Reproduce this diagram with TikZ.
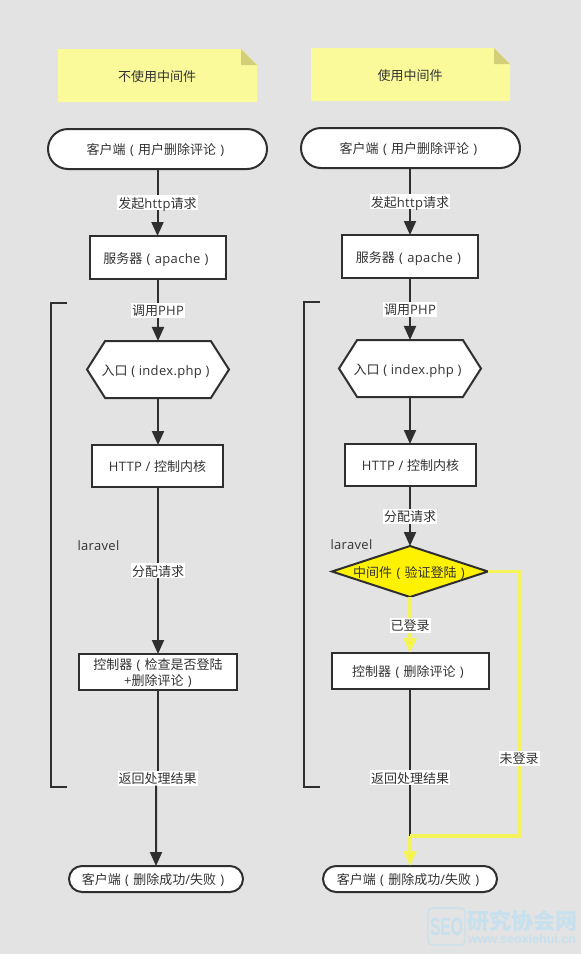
\documentclass[tikz,border=0pt]{standalone}
\usepackage{fontspec}
\setmainfont[LetterSpace=2.5]{Open Sans}
\newfontfamily\cjk{Noto Sans CJK SC}
\newfontfamily\wmfont{Liberation Sans}
\newcommand{\zh}[1]{{\cjk #1}}
\newcommand{\pl}{\kern.6pt\ (\ \kern.6pt}
\newcommand{\pr}{\kern.6pt\ )}
\newcommand{\trail}[1]{\kern#1pt}
\usetikzlibrary{arrows.meta,shapes.misc,shapes.geometric,shapes.symbols}
\definecolor{bgc}{HTML}{E3E3E3}
\definecolor{ink}{HTML}{2F2F2F}
\definecolor{txt}{HTML}{333333}
\definecolor{notec}{HTML}{FBFA9A}
\definecolor{foldc}{HTML}{D3CF78}
\definecolor{yline}{HTML}{F4F45A}
\definecolor{wm}{HTML}{C6E0EE}
\tikzset{
  x=1pt,y=-1pt,
  every node/.style={font=\fontsize{13}{16}\selectfont,text=txt,outer sep=0pt,inner sep=0pt,align=center,text height=13pt,text depth=2pt},
  boxbase/.style={draw=ink,line width=2pt,fill=white},
  procbox/.style={boxbase,rectangle},
  pill/.style={boxbase,rounded rectangle,rounded rectangle arc length=180},
  hexbox/.style={boxbase,signal,signal to=east and west,signal pointer angle=115,minimum width=142pt,minimum height=57pt},
  decbox/.style={draw=ink,line width=2pt,fill=yellow,diamond,aspect=3.06,minimum width=156pt,minimum height=51pt},
  flow/.style={draw=ink,line width=2pt,-{Triangle[length=14pt,width=12pt,fill=ink]}},
  plainflow/.style={draw=ink,line width=2pt},
  yflow/.style={draw=yline,line width=3.5pt},
  yarrow/.style={yflow,-{Triangle[length=15pt,width=13pt,fill=yellow]}},
  lab/.style={fill=white,inner xsep=1pt,inner ysep=0pt},
  bracket/.style={draw=ink,line width=2pt},
  notefill/.style={fill=notec},
  foldfill/.style={fill=foldc},
}
\begin{document}
\begin{tikzpicture}
\useasboundingbox (0,0) rectangle (581,954);
\fill[bgc] (0,0) rectangle (581,954);
% notes
\path[notefill] (58,49) -- (241,49) -- (257,65) -- (257,102) -- (58,102) -- cycle;
\path[foldfill] (241,49) -- (241,65) -- (257,65) -- cycle;
\node (nl) at (157,76) {\zh{不使用中间件}};
\path[notefill] (311,48) -- (494,48) -- (510,64) -- (510,101) -- (311,101) -- cycle;
\path[foldfill] (494,48) -- (494,64) -- (510,64) -- cycle;
\node (nr) at (410,75) {\zh{使用中间件}};
% brackets
\draw[bracket] (67,303) -- (51,303) -- (51,787) -- (67,787);
\draw[bracket] (320,302) -- (304,302) -- (304,787) -- (320,787);
\node (ll) at (98.5,545) {laravel};
\node (lr) at (351.5,544) {laravel};
% left column
\node[pill,minimum width=219pt,minimum height=40pt] (a1) at (157.5,149) {\zh{客户端}\pl\zh{用户删除评论}\pr\trail{4}};
\node[procbox,minimum width=136pt,minimum height=43pt] (a2) at (158,257.5) {\zh{服务器}\pl apache\pr\trail{4}};
\node[hexbox] (a3) at (158,369.5) {\makebox[0pt]{\zh{入口} ( index.php )\trail{5}}};
\node[procbox,minimum width=131pt,minimum height=42pt] (a4) at (157.5,466) {HTTP / \zh{控制内核}};
\node[procbox,minimum width=158pt,minimum height=36pt,text height=30pt,text depth=4pt] (a5) at (158,672) {\zh{控制器}\pl\zh{检查是否登陆}\\+\zh{删除评论}\pr};
\node[pill,minimum width=174pt,minimum height=26pt] (a6) at (156,879) {\zh{客户端}\pl\zh{删除成功}/\zh{失败}\pr\trail{6}};
\node[lab] (ret) at (157.5,778) {\zh{返回处理结果}};
\draw[flow] (a1.south) -- node[lab]{\zh{发起}http\zh{请求}} (a2.north -| a1.south);
\draw[flow] (a2) -- node[lab]{\zh{调用}PHP} (a3);
\draw[flow] (a3) -- (a4.north -| a3);
\draw[flow] (a4.south -| a5) -- node[lab]{\zh{分配请求}} (a5);
\draw[plainflow] (a5) -- (ret.north -| a5);
\draw[flow] (ret.south -| a6) -- (a6);
% right column
\node[pill,minimum width=219pt,minimum height=40pt] (b1) at (410.5,148) {\zh{客户端}\pl\zh{用户删除评论}\pr\trail{4}};
\node[procbox,minimum width=136pt,minimum height=43pt] (b2) at (410,256.5) {\zh{服务器}\pl apache\pr\trail{3}};
\node[hexbox] (b3) at (410,368.5) {\makebox[0pt]{\zh{入口} ( index.php )\trail{5}}};
\node[procbox,minimum width=131pt,minimum height=42pt] (b4) at (410.5,465) {HTTP / \zh{控制内核}};
\node[decbox] (b5) at (410,571.5) {};
\node (b5t) at (409,571.5) {\zh{中间件}\pl\zh{验证登陆}\pr};
\node[procbox,minimum width=157pt,minimum height=36pt] (b6) at (410.5,671) {\zh{控制器}\pl\zh{删除评论}\pr\trail{5}};
\node[pill,minimum width=174pt,minimum height=26pt] (b7) at (410,879) {\zh{客户端}\pl\zh{删除成功}/\zh{失败}\pr\trail{4}};
\coordinate (j) at (410,836);
\coordinate (c1) at (519,571.5);
\coordinate (c2) at (519,836);
\draw[flow] (b1.south -| b2) -- node[lab]{\zh{发起}http\zh{请求}} (b2);
\draw[flow] (b2) -- node[lab]{\zh{调用}PHP} (b3);
\draw[flow] (b3) -- (b4.north -| b3);
\draw[flow] (b4.south -| b5) -- node[lab]{\zh{分配请求}} (b5.north);
\draw[yarrow] (b5.south) -- node[lab]{\zh{已登录}} (b6.north -| b5);
\draw[plainflow] (b6.south -| j) -- node[lab,pos=.605]{\zh{返回处理结果}} (j);
\draw[yflow] (b5.east) -- (c1) -- node[lab,pos=.706]{\zh{未登录}} (c2) -- (j);
\draw[yarrow] (j) -- (b7.north -| j);
% watermark
\draw[wm,line width=1.2pt,rounded corners=4pt] (428,908) rectangle (465,945);
\node[text=wm,font=\wmfont\bfseries\fontsize{25}{25}\selectfont,xscale=.62,text height=18pt,text depth=0pt] (w1) at (446.5,926.5) {SEO};
\node[text=wm,font=\cjk\bfseries\fontsize{22}{22}\selectfont,text height=19pt,text depth=3pt] (w2) at (522,921) {研究协会网};
\node[text=wm,font=\wmfont\bfseries\fontsize{12.5}{13}\selectfont,text height=9pt,text depth=2pt] (w3) at (522,940) {www.seoxiehui.cn};
\end{tikzpicture}
\end{document}
